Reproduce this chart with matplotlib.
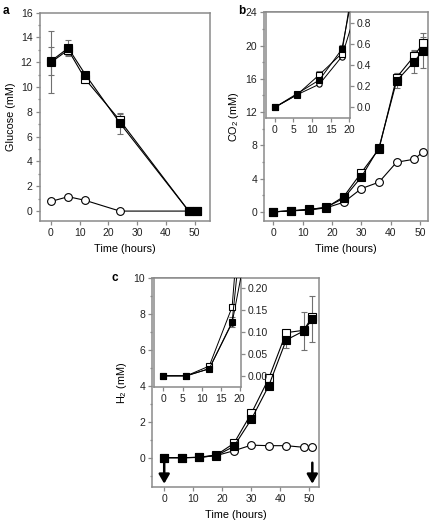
import matplotlib
matplotlib.use("Agg")
import matplotlib.pyplot as plt
import numpy as np

plt.rcParams['font.family'] = ['Liberation Sans', 'DejaVu Sans']
plt.rcParams['mathtext.fontset'] = 'custom'
plt.rcParams['mathtext.rm'] = 'Liberation Sans'
plt.rcParams['mathtext.it'] = 'Liberation Sans'

# ---------------- data ----------------
time = [0, 6, 12, 24, 48, 51]
glc_filled = [12.1, 13.15, 11.0, 7.1, 0.0, 0.0]
glc_filled_err = [1.1, 0.65, 0.2, 0.85, 0.0, 0.0]
glc_open = [12.0, 13.0, 10.62, 7.32, 0.0, 0.0]
glc_open_err = [2.5, 0.4, 0.3, 0.5, 0.0, 0.0]
glc_circle = [0.78, 1.16, 0.86, 0.0, 0.0, 0.0]

time_bc = [0, 6, 12, 18, 24, 30, 36, 42, 48, 51]
co2_filled = [0.0, 0.13, 0.26, 0.55, 1.64, 4.2, 7.73, 15.75, 18.07, 19.4]
co2_filled_err = [0.0, 0.0, 0.03, 0.04, 0.2, 0.3, 0.3, 0.9, 1.4, 2.1]
co2_open = [0.0, 0.12, 0.31, 0.51, 1.84, 4.73, 7.57, 16.15, 18.75, 20.3]
co2_open_err = [0.0, 0.0, 0.03, 0.04, 0.1, 0.2, 0.2, 0.5, 0.6, 0.7]
co2_circle = [0.0, 0.12, 0.22, 0.48, 1.16, 2.8, 3.57, 5.97, 6.33, 7.21]

h2_filled = [0.0, 0.0, 0.016, 0.122, 0.63, 2.14, 4.01, 6.56, 7.06, 7.73]
h2_filled_err = [0.0, 0.0, 0.002, 0.012, 0.05, 0.1, 0.1, 0.45, 1.05, 1.3]
h2_open = [0.0, 0.0, 0.022, 0.156, 0.8, 2.47, 4.42, 6.97, 7.1, 7.86]
h2_circle = [0.0, 0.0, 0.016, 0.12, 0.39, 0.7, 0.67, 0.67, 0.58, 0.58]

arrow_times = [0, 51]

# ---------------- style ----------------
SPINE = '#8a8a8a'
ERRC = '#707070'
FS = 7.5


def style_axes(ax, right=False):
    for s in ax.spines.values():
        s.set_color(SPINE)
        s.set_linewidth(1.1)
    ax.tick_params(which='both', direction='out', color=SPINE, labelsize=FS,
                   labelcolor='#222222', width=0.9, pad=2.5)
    ax.tick_params(which='major', length=2.6)
    ax.tick_params(which='minor', length=1.6)
    if right:
        ax.yaxis.tick_right()


def plot_series(ax, x, yc, yo, yf, eo=None, ef=None, ms_sq=6.0, ms_c=5.6, lw=0.8):
    ax.plot(x, yc, '-o', color='black', mfc='white', mec='black', ms=ms_c, lw=lw,
            mew=0.8, zorder=3)
    if eo is not None:
        ax.errorbar(x, yo, yerr=eo, fmt='none', ecolor=ERRC, elinewidth=0.8,
                    capsize=2, capthick=0.8, zorder=2)
    ax.plot(x, yo, '-s', color='black', mfc='white', mec='black', ms=ms_sq, lw=lw,
            mew=0.8, zorder=4)
    if ef is not None:
        ax.errorbar(x, yf, yerr=ef, fmt='none', ecolor=ERRC, elinewidth=0.8,
                    capsize=2, capthick=0.8, zorder=2)
    ax.plot(x, yf, '-s', color='black', mfc='black', mec='black', ms=ms_sq, lw=lw,
            mew=0.8, zorder=5)


W, H = 434, 523
fig = plt.figure(figsize=(W / 100, H / 100), dpi=100)


def px_axes(l, r, t, b):
    return fig.add_axes([l / W, 1 - b / H, (r - l) / W, (b - t) / H])


# ---------------- panel a ----------------
axa = px_axes(39.5, 210.3, 12.7, 221)
plot_series(axa, time, glc_circle, glc_open, glc_filled, glc_open_err, glc_filled_err)
axa.set_xlim(-4, 55.5)
axa.set_ylim(-0.8, 16)
axa.set_xticks([0, 10, 20, 30, 40, 50])
axa.set_yticks(np.arange(0, 17, 2))
axa.set_yticks(np.arange(1, 16, 2), minor=True)
style_axes(axa)
axa.set_xlabel('Time (hours)', fontsize=FS + 0.3, labelpad=4)
axa.set_ylabel('Glucose (mM)', fontsize=FS + 0.3, labelpad=3)
fig.text(3 / W, 1 - 11 / H, 'a', fontsize=8.5, fontweight='bold', va='center')

# ---------------- panel b ----------------
axb = px_axes(264.3, 428.3, 12.3, 221)
plot_series(axb, time_bc, co2_circle, co2_open, co2_filled, co2_open_err, co2_filled_err)
axb.set_xlim(-3.1, 52.8)
axb.set_ylim(-1.1, 24)
axb.set_xticks([0, 10, 20, 30, 40, 50])
axb.set_yticks(np.arange(0, 25, 4))
axb.set_yticks(np.arange(2, 24, 4), minor=True)
style_axes(axb)
axb.set_xlabel('Time (hours)', fontsize=FS + 0.3, labelpad=4)
axb.set_ylabel('CO$_2$ (mM)', fontsize=FS + 0.3, labelpad=3)
fig.text(238 / W, 1 - 11 / H, 'b', fontsize=8.5, fontweight='bold', va='center')

axbi = px_axes(265.5, 350, 12.3, 118)
plot_series(axbi, time_bc, co2_circle, co2_open, co2_filled, co2_open_err, co2_filled_err,
            ms_sq=4.2, ms_c=3.8, lw=0.7)
axbi.set_xlim(-2.45, 20.2)
axbi.set_ylim(-0.1, 0.9)
axbi.set_xticks([0, 5, 10, 15, 20])
axbi.set_yticks([0.0, 0.2, 0.4, 0.6, 0.8])
axbi.set_yticklabels(['0.0', '0.2', '0.4', '0.6', '0.8'])
style_axes(axbi, right=True)
axbi.set_zorder(5)

# ---------------- panel c ----------------
axc = px_axes(152.3, 319, 278.3, 487.3)
plot_series(axc, time_bc, h2_circle, h2_open, h2_filled, None, h2_filled_err)
for t in arrow_times:
    axc.annotate('', xy=(t, -1.45), xytext=(t, -0.28),
                 arrowprops=dict(arrowstyle='-|>,head_length=0.55,head_width=0.32',
                                 lw=1.8, color='black', shrinkA=0, shrinkB=0),
                 zorder=6)
axc.set_xlim(-4.1, 53.3)
axc.set_ylim(-1.65, 10)
axc.set_xticks([0, 10, 20, 30, 40, 50])
axc.set_yticks(np.arange(0, 11, 2))
axc.set_yticks(np.arange(-1, 10, 2), minor=True)
style_axes(axc)
axc.set_xlabel('Time (hours)', fontsize=FS + 0.3, labelpad=4)
axc.set_ylabel('H$_2$ (mM)', fontsize=FS + 0.3, labelpad=3)
fig.text(112 / W, 1 - 278 / H, 'c', fontsize=8.5, fontweight='bold', va='center')

axci = px_axes(153.5, 240.5, 278.3, 387.3)
plot_series(axci, time_bc, h2_circle, h2_open, h2_filled, None, h2_filled_err,
            ms_sq=4.2, ms_c=3.8, lw=0.7)
axci.set_xlim(-2.6, 20.2)
axci.set_ylim(-0.026, 0.221)
axci.set_xticks([0, 5, 10, 15, 20])
axci.set_yticks([0.0, 0.05, 0.10, 0.15, 0.20])
axci.set_yticklabels(['0.00', '0.05', '0.10', '0.15', '0.20'])
style_axes(axci, right=True)
axci.set_zorder(5)

fig.savefig('out.png', dpi=100)
